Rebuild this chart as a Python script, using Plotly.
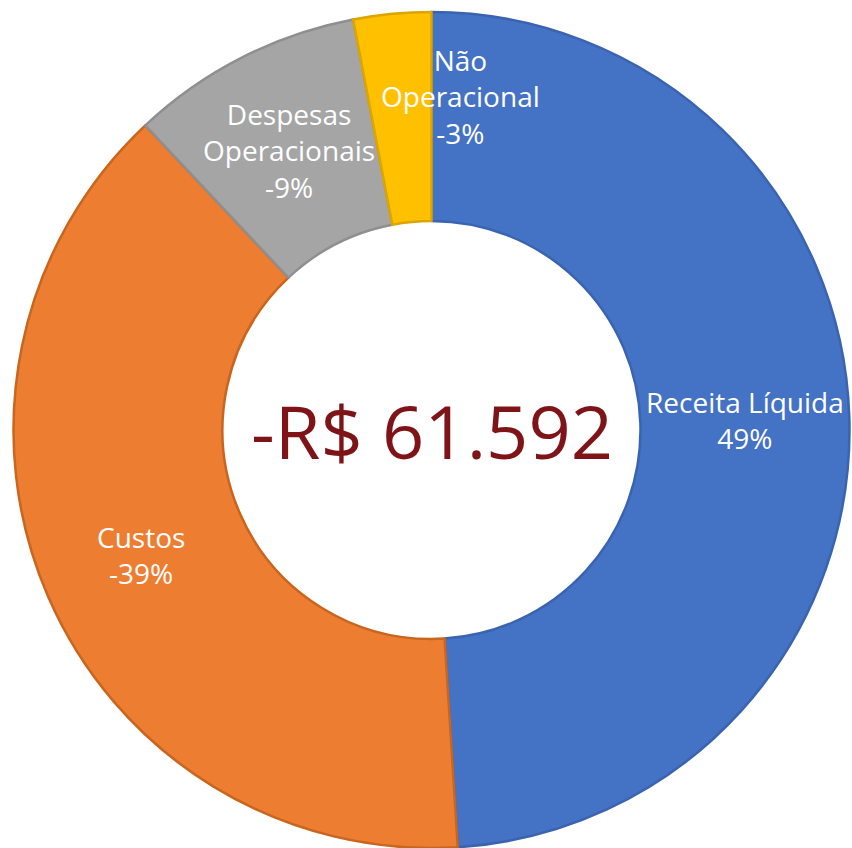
import math
import plotly.graph_objects as go

# Data
categories = ["Receita Líquida", "Custos", "Despesas Operacionais", "Não Operacional"]
label_lines = ["Receita Líquida", "Custos", "Despesas<br>Operacionais", "Não<br>Operacional"]
shares = [49, 39, 9, 3]          # absolute share of each slice (%)
signs = ["", "-", "-", "-"]      # sign shown in the labels
total_text = "-R$ 61.592"

fill_colors = ["#4472C4", "#ED7D31", "#A5A5A5", "#FFC000"]
line_colors = ["#3A64B0", "#C8651F", "#8F8F8F", "#DCA500"]

W, H = 852, 848
ML, MR, MT, MB = 11, 0, 12, 0
HOLE = 0.5

fig = go.Figure(go.Pie(
    labels=categories,
    values=shares,
    hole=HOLE,
    sort=False,
    direction="clockwise",
    rotation=0,
    textinfo="none",
    hoverinfo="skip",
    marker=dict(colors=fill_colors, line=dict(color=line_colors, width=2.5)),
    showlegend=False,
    domain=dict(x=[0, 1], y=[0, 1]),
))

# Label annotations placed at the mid-angle / mid-radius of each slice
pw, ph = W - ML - MR, H - MT - MB
R = min(pw, ph) / 2
r_mid = R * (1 + HOLE) / 2
tot = sum(shares)
cum = 0
shifts = [(0, 0), (-3, 0), (0, 0), (59, 21)]
annotations = []
for lab, s, sg, (xs, ys) in zip(label_lines, shares, signs, shifts):
    mid = (cum + s / 2) / tot * 2 * math.pi
    cum += s
    dx = r_mid * math.sin(mid)
    dy = r_mid * math.cos(mid)
    annotations.append(dict(
        x=0.5 + dx / pw, y=0.5 + dy / ph, xref="paper", yref="paper",
        text=f"{lab}<br>{sg}{s}%", showarrow=False,
        xanchor="center", yanchor="middle", align="center",
        xshift=xs, yshift=ys,
        font=dict(family="Open Sans", size=28, color="white"),
    ))

annotations.append(dict(
    x=0.5, y=0.5, xref="paper", yref="paper", text=total_text, showarrow=False,
    xanchor="center", yanchor="middle",
    font=dict(family="Open Sans", size=74, color="#7F1418"),
))

fig.update_layout(
    width=W, height=H,
    margin=dict(l=ML, r=MR, t=MT, b=MB, pad=0),
    paper_bgcolor="white",
    plot_bgcolor="white",
    annotations=annotations,
)

fig.write_html("out.html", config={"displayModeBar": False},
               post_script="document.body.style.margin='0';")
